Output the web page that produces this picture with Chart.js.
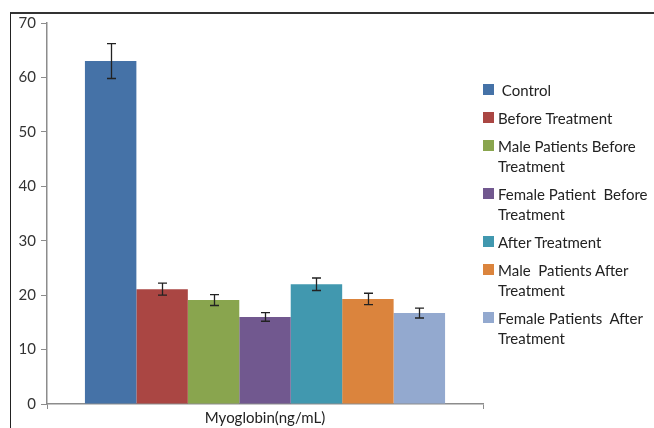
<!DOCTYPE html>
<html>
<head>
<meta charset="utf-8">
<script src="https://cdn.jsdelivr.net/npm/chart.js@4.4.0/dist/chart.umd.min.js"></script>
<style>
  html, body { margin: 0; padding: 0; background: #fff; overflow: hidden; }
  #wrap { position: relative; width: 654px; height: 428px; }
  #frame { position: absolute; left: 10px; top: 12px; width: 700px; height: 500px;
           border-left: 1px solid #222; border-top: 2px solid #333; }
  #chart { position: absolute; left: 0; top: 0; }
  #legend { position: absolute; left: 483px; top: 80px; font-family: Lato, sans-serif;
            font-size: 15px; color: #222; }
  .item { position: relative; padding-left: 15px; margin-bottom: 8px; line-height: 20px; white-space: pre; }
  .sw { position: absolute; left: 0; top: 4px; width: 11px; height: 11px; }
</style>
</head>
<body>
<div id="wrap">
  <div id="frame"></div>
  <canvas id="chart" width="654" height="428"></canvas>
  <div id="legend"></div>
</div>
<script>
// data
const categories = ['Myoglobin(ng/mL)'];
const seriesNames = [' Control', 'Before Treatment', 'Male Patients Before\nTreatment',
  'Female Patient  Before\nTreatment', 'After Treatment', 'Male  Patients After\nTreatment',
  'Female Patients  After\nTreatment'];
const values = [63.0, 21.1, 19.1, 16.0, 22.0, 19.3, 16.7];
const errors = [3.2, 1.1, 1.0, 0.8, 1.15, 1.05, 0.9];
const colors = ['#4572A7', '#AA4643', '#89A54E', '#71588F', '#4198AF', '#DB843D', '#93A9CF'];
const yTicks = [0, 10, 20, 30, 40, 50, 60, 70];

const datasets = seriesNames.map((name, i) => ({
    label: name,
    data: [values[i]],
    backgroundColor: colors[i],
    borderWidth: 0,
    errorBar: errors[i]
}));

// draw the error bars on top of the bars
const errorBars = {
    id: 'errorBars',
    afterDatasetsDraw(chart) {
        const ctx = chart.ctx;
        const y = chart.scales.y;
        ctx.save();
        ctx.strokeStyle = '#222';
        ctx.lineWidth = 1.3;
        chart.data.datasets.forEach((ds, i) => {
            const bar = chart.getDatasetMeta(i).data[0];
            const x = Math.round(bar.x) + 0.5;
            const top = y.getPixelForValue(ds.data[0] + ds.errorBar);
            const bot = y.getPixelForValue(ds.data[0] - ds.errorBar);
            ctx.beginPath();
            ctx.moveTo(x, top); ctx.lineTo(x, bot);
            ctx.moveTo(x - 4.5, top); ctx.lineTo(x + 4.5, top);
            ctx.moveTo(x - 4.5, bot); ctx.lineTo(x + 4.5, bot);
            ctx.stroke();
        });
        ctx.restore();
    }
};

new Chart(document.getElementById('chart').getContext('2d'), {
    type: 'bar',
    data: { labels: categories, datasets: datasets },
    options: {
        responsive: false,
        animation: false,
        layout: { padding: { left: 0, right: 171, top: 23, bottom: 0 } },
        datasets: { bar: { categoryPercentage: 0.826, barPercentage: 1 } },
        plugins: { legend: { display: false }, tooltip: { enabled: false } },
        scales: {
            x: {
                afterFit: s => { s.height = 24; },
                grid: { drawOnChartArea: false, tickLength: 5, color: '#8c8c8c' },
                border: { color: '#8c8c8c', width: 1.5 },
                ticks: { color: '#222', padding: 0, font: { family: 'Lato', size: 15 } }
            },
            y: {
                min: 0, max: 70,
                afterFit: s => { s.width = 47; },
                afterBuildTicks: s => { s.ticks = yTicks.map(v => ({ value: v })); },
                grid: { drawOnChartArea: false, tickLength: 6, color: '#8c8c8c' },
                border: { color: '#8c8c8c', width: 1.5 },
                ticks: { color: '#333', padding: 5, font: { family: 'Lato', size: 15 } }
            }
        }
    },
    plugins: [errorBars]
});

// legend built from the same arrays
const legend = document.getElementById('legend');
seriesNames.forEach((name, i) => {
    const item = document.createElement('div');
    item.className = 'item';
    const sw = document.createElement('span');
    sw.className = 'sw';
    sw.style.background = colors[i];
    item.appendChild(sw);
    item.appendChild(document.createTextNode(name));
    legend.appendChild(item);
});
</script>
</body>
</html>
